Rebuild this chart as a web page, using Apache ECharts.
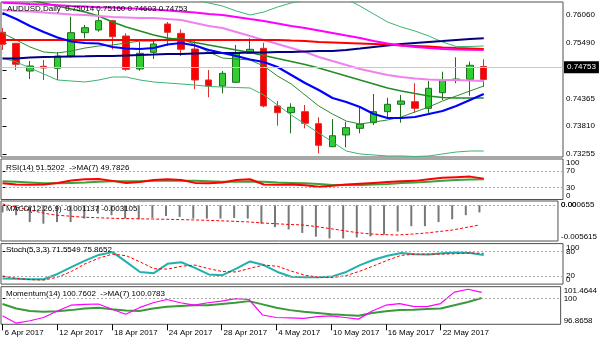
<!DOCTYPE html>
<html><head><meta charset="utf-8">
<script src="https://cdn.jsdelivr.net/npm/echarts@6/dist/echarts.min.js"></script>
<style>html,body{margin:0;padding:0;background:#fff}#c{width:600px;height:343px}</style>
</head><body><div id="c"></div>
<script>
// ---------- DATA ----------
const dates = ['6 Apr 2017','7 Apr 2017','10 Apr 2017','11 Apr 2017','12 Apr 2017','13 Apr 2017','14 Apr 2017','17 Apr 2017','18 Apr 2017','19 Apr 2017','20 Apr 2017','21 Apr 2017','24 Apr 2017','25 Apr 2017','26 Apr 2017','27 Apr 2017','28 Apr 2017','1 May 2017','2 May 2017','3 May 2017','4 May 2017','5 May 2017','8 May 2017','9 May 2017','10 May 2017','11 May 2017','12 May 2017','15 May 2017','16 May 2017','17 May 2017','18 May 2017','19 May 2017','22 May 2017','23 May 2017','24 May 2017','25 May 2017'];
const dateTickIdx = [0,4,8,12,16,20,24,28,32];
const open  = [0.75702,0.75480,0.74922,0.75017,0.74977,0.75224,0.75694,0.75748,0.75935,0.75627,0.74963,0.75299,0.75869,0.75681,0.75365,0.74741,0.74620,0.74695,0.75279,0.75379,0.74218,0.74083,0.74103,0.73861,0.73398,0.73634,0.73768,0.73881,0.74103,0.74252,0.74304,0.74171,0.74485,0.74741,0.74755,0.75014];
const close = [0.75460,0.75057,0.75023,0.74983,0.75224,0.75694,0.75794,0.75935,0.75613,0.74957,0.75279,0.75466,0.75702,0.75359,0.74741,0.74620,0.74876,0.75279,0.75359,0.74218,0.74083,0.74191,0.73869,0.73426,0.73619,0.73781,0.73855,0.74103,0.74252,0.74318,0.74171,0.74574,0.74741,0.74761,0.75037,0.74753];
const low   = [0.75345,0.74942,0.74761,0.74741,0.74741,0.75190,0.75581,0.75714,0.75359,0.74928,0.74928,0.75164,0.75426,0.75224,0.74554,0.74393,0.74473,0.74690,0.75270,0.74191,0.73821,0.73668,0.73768,0.73265,0.73390,0.73386,0.73668,0.73835,0.73956,0.73881,0.74083,0.74071,0.74338,0.74675,0.74425,0.74603];
const high  = [0.75788,0.75486,0.75124,0.75144,0.75305,0.76016,0.75849,0.76141,0.75949,0.75681,0.75512,0.75532,0.75909,0.75762,0.75561,0.74942,0.74922,0.75446,0.75581,0.75492,0.74318,0.74272,0.74238,0.73990,0.73956,0.73901,0.74203,0.74459,0.74385,0.74439,0.74675,0.74721,0.74908,0.75198,0.75110,0.75160];
const maRed     = [0.75547,0.75547,0.75547,0.75547,0.75547,0.75547,0.75547,0.75547,0.75547,0.75547,0.75547,0.75547,0.75547,0.75547,0.75547,0.75547,0.75547,0.75547,0.75547,0.75547,0.75547,0.75536,0.75526,0.75506,0.75496,0.75486,0.75476,0.75466,0.75456,0.75436,0.75426,0.75416,0.75396,0.75385,0.75375,0.75365];
const maMagenta = [0.76298,0.76286,0.76271,0.76259,0.76245,0.76231,0.76219,0.76207,0.76199,0.76187,0.76175,0.76159,0.76141,0.76120,0.76100,0.76070,0.76050,0.76010,0.75969,0.75929,0.75879,0.75828,0.75788,0.75738,0.75688,0.75637,0.75587,0.75526,0.75476,0.75436,0.75406,0.75385,0.75365,0.75355,0.75349,0.75345];
const maViolet  = [0.76151,0.76131,0.76120,0.76100,0.76080,0.76060,0.76050,0.76030,0.76010,0.76000,0.75990,0.75990,0.75969,0.75949,0.75889,0.75828,0.75788,0.75708,0.75627,0.75547,0.75466,0.75385,0.75305,0.75204,0.75124,0.75043,0.74963,0.74902,0.74842,0.74801,0.74771,0.74751,0.74741,0.74741,0.74731,0.74721];
const maNavy    = [0.75174,0.75174,0.75194,0.75204,0.75208,0.75214,0.75218,0.75224,0.75224,0.75234,0.75244,0.75254,0.75265,0.75265,0.75275,0.75285,0.75285,0.75285,0.75295,0.75295,0.75305,0.75305,0.75315,0.75325,0.75325,0.75345,0.75375,0.75406,0.75436,0.75466,0.75486,0.75506,0.75526,0.75547,0.75567,0.75581];
const maBlue    = [0.76090,0.75969,0.75828,0.75708,0.75597,0.75516,0.75486,0.75476,0.75406,0.75375,0.75365,0.75385,0.75456,0.75486,0.75436,0.75345,0.75285,0.75224,0.75154,0.75104,0.75003,0.74842,0.74681,0.74540,0.74379,0.74298,0.74197,0.74056,0.73976,0.73976,0.73996,0.74056,0.74117,0.74218,0.74338,0.74459];
const bbMid     = [0.76453,0.76412,0.76352,0.76292,0.76231,0.76171,0.76110,0.76030,0.75909,0.75808,0.75728,0.75647,0.75587,0.75547,0.75496,0.75446,0.75396,0.75345,0.75295,0.75234,0.75174,0.75114,0.75053,0.74983,0.74902,0.74822,0.74741,0.74661,0.74580,0.74520,0.74469,0.74419,0.74389,0.74379,0.74379,0.74379];
const bbUp      = [0.77560,0.77601,0.77661,0.77721,0.77721,0.77621,0.77520,0.77319,0.77017,0.76815,0.76715,0.76594,0.76493,0.76412,0.76352,0.76292,0.76231,0.76131,0.76050,0.76110,0.76211,0.76292,0.76352,0.76412,0.76412,0.76372,0.76231,0.76070,0.75909,0.75808,0.75728,0.75627,0.75506,0.75416,0.75416,0.75426];
const bbLow     = [0.75184,0.75104,0.74983,0.74862,0.74741,0.74721,0.74701,0.74741,0.74801,0.74801,0.74741,0.74701,0.74681,0.74661,0.74640,0.74610,0.74600,0.74590,0.74580,0.74439,0.74238,0.74036,0.73855,0.73674,0.73493,0.73311,0.73251,0.73231,0.73211,0.73211,0.73201,0.73211,0.73251,0.73291,0.73311,0.73311];
const maThin    = [0.75688,0.75547,0.75406,0.75305,0.75285,0.75325,0.75385,0.75426,0.75446,0.75486,0.75526,0.75526,0.75567,0.75587,0.75446,0.75305,0.75184,0.75164,0.75144,0.75023,0.74822,0.74661,0.74439,0.74218,0.74056,0.73915,0.73855,0.73895,0.73936,0.73996,0.74097,0.74197,0.74318,0.74419,0.74520,0.74620];
const rsi    = [40,37,36.5,37,41,47,50,50.5,46,41,43,48,50,48,41,40,42,48,50,37,36.5,37,35,31.5,34,37,39,41,43,45,46,50,53.5,55,56.5,51.5202];
const rsiMa  = [45,44,42,40,40,41,42,44,45,45,45,46,46,46,46,45,44,44,44.5,44,42,41,40,38,36,35.5,36,37,38.5,40.5,42,44,46,48,49.5,49.7826];
const macd   = [-0.00114,-0.00157,-0.00265,-0.0029,-0.00265,-0.00265,-0.0021,-0.0013,-0.00157,-0.0021,-0.0022,-0.002,-0.0017,-0.00184,-0.0021,-0.0021,-0.0021,-0.002,-0.0021,-0.0029,-0.00345,-0.0038,-0.00435,-0.00494,-0.00521,-0.00521,-0.00505,-0.00489,-0.00462,-0.00414,-0.00329,-0.00329,-0.00265,-0.00221,-0.00157,-0.001137];
const macdSig= [0.00019,-0.00029,-0.00077,-0.00125,-0.00157,-0.00173,-0.00189,-0.00197,-0.00205,-0.0021,-0.00213,-0.00217,-0.00221,-0.00226,-0.00231,-0.00237,-0.00245,-0.00253,-0.00262,-0.00278,-0.0029,-0.00302,-0.0031,-0.00334,-0.00366,-0.00398,-0.0043,-0.00451,-0.00462,-0.00467,-0.00454,-0.00438,-0.00414,-0.0039,-0.0035,-0.003105];
const stochK = [14,13,12,12,25,42,58,72,79,55,30,27,50,54,40,24,22,38,56,47,30,18,17,17,19,30,47,60,70,77,74,73,76,78,77,71.5549];
const stochD = [20,14,11,10,17,31,50,64,74,70,55,38,37,44,47,38,31,30,39,47,44,32,22,17,16,21,32,45,59,71,74,74,74,75,77,75.8652];
const mom    = [97.9,97.0,97.3,97.7,98.5,99.2,99.3,99.35,98.7,98.1,98.9,99.5,99.9,99.5,99.2,99.5,99.7,100.0,99.9,98.0,97.7,97.65,97.6,97.8,97.9,97.7,97.5,98.5,99.2,99.4,99.05,99.02,99.4,100.8,101.15,100.7602];
const momMa  = [99.35,98.8,98.5,98.4,98.45,98.6,98.8,98.9,98.7,98.55,98.5,98.8,99.0,99.1,99.2,99.2,99.35,99.5,99.7,99.3,98.9,98.6,98.4,98.25,98.1,98.0,97.92,98.25,98.45,98.6,98.65,98.75,98.8,99.2,99.6,100.0783];
// tick labels: inner levels and pane extremes
const priceTicks = [0.76060,0.75490,0.74935,0.74365,0.73810,0.73255];
const rsiLevels = [30,70],  rsiExt = [0,100];
const macdLevels = [0],     macdExt = [-0.005615,0.000655];
const stochLevels = [20,80], stochExt = [0,100];
const momLevels = [100],    momExt = [96.8658,101.4644];
const lastPrice = 0.74753;
const titles = ['AUDUSD,Daily  0.75014 0.75160 0.74603 0.74753','RSI(14) 51.5202  ->MA(7) 49.7826','MACD(12,26,9) -0.001137 -0.003105','Stoch(5,3,3) 71.5549 75.8652','Momentum(14) 100.7602  ->MA(7) 100.0783'];

// ---------- LAYOUT ----------
const FONT = "'Liberation Sans',Arial,sans-serif";
const FS = 8;
const X_MIN = -0.109, X_MAX = 40.764;
const panes = [
  {top:2, height:155, min:0.731905, max:0.763117},
  {top:159, height:40.5, min:0, max:100},
  {top:201, height:40, min:-0.005615, max:0.000655},
  {top:243.6, height:40.5, min:0, max:100},
  {top:286.7, height:37.6, min:96.8658, max:101.4644}
];
const innerTicks = [priceTicks, rsiLevels, macdLevels, stochLevels, momLevels];
const extTicks = [null, rsiExt, macdExt, stochExt, momExt];
const fmts = [v=>v.toFixed(5), v=>String(v), v=>(v===0?'0.00':v.toFixed(6)), v=>String(v), v=>String(v)];
const titleY = [8.3, 167.3, 208.3, 250, 293.5];

const grid = panes.map(p=>({left:1, width:562, top:p.top, height:p.height, show:true, borderColor:'#505050', borderWidth:1, backgroundColor:'transparent'}));
const xAxis = panes.map((p,i)=>({
  type:'value', gridIndex:i, min:X_MIN, max:X_MAX, show:i===4,
  axisLine:{show:false}, splitLine:{show:false},
  axisTick:{show:true, customValues:dateTickIdx, length:6, lineStyle:{color:'#000'}},
  axisLabel:{customValues:dateTickIdx, formatter:v=>dates[Math.round(v)], align:'left', margin:4, color:'#000', fontSize:FS, fontFamily:FONT, padding:[0,0,0,2], hideOverlap:false, showMinLabel:true, showMaxLabel:true}
}));
function yax(i, ticks, isExt) {
  const p = panes[i];
  return {type:'value', gridIndex:i, position:'right', min:p.min, max:p.max,
    axisLine:{show:false}, splitLine:{show:false},
    axisTick:{show:!isExt, customValues:ticks, length:4, lineStyle:{color:'#000'}},
    axisLabel:{customValues:ticks, formatter:fmts[i], margin:3, color:'#000', fontSize:FS, fontFamily:FONT,
      hideOverlap:false, showMinLabel:true, showMaxLabel:true,
      verticalAlignMaxLabel: isExt?'top':null, verticalAlignMinLabel: isExt?'bottom':null}};
}
const yAxis = panes.map((p,i)=>yax(i, innerTicks[i], false));
panes.forEach((p,i)=>{ if (extTicks[i]) yAxis.push(yax(i, extTicks[i], true)); });

const idx = a => a.map((v,i)=>[i,v]);
function line(arr, gi, color, width, extra) {
  return Object.assign({type:'line', xAxisIndex:gi, yAxisIndex:gi, data:idx(arr), showSymbol:false, symbol:'none', silent:true,
    lineStyle:{color:color, width:width}, clip:true}, extra||{});
}
function levels(vals) {
  return {silent:true, symbol:'none', label:{show:false}, lineStyle:{color:'#A8A8A8', type:[2,2], width:1},
    data: vals.map(v=>({yAxis:v}))};
}

const series = [
  {type:'candlestick', xAxisIndex:0, yAxisIndex:0, barWidth:7,
   data: dates.map((d,i)=>[i, open[i], close[i], low[i], high[i]]),
   encode:{x:0, y:[1,2,3,4]},
   itemStyle:{color:'#32CD32', color0:'#FF0000', borderColor:'#1E6E1E', borderColor0:'#D83030', borderWidth:1},
   markLine:{silent:true, symbol:'none', lineStyle:{color:'#C8C8C8', type:'solid', width:1},
     label:{show:true, position:'end', formatter:lastPrice.toFixed(5), color:'#fff', backgroundColor:'#000', padding:[2,3,2,3], distance:1, fontSize:FS, fontFamily:FONT},
     data:[{yAxis:lastPrice}]}, z:2},
  line(bbUp, 0, '#3CB371', 1),
  line(bbLow, 0, '#3CB371', 1),
  line(maThin, 0, '#2E8B2E', 1),
  line(bbMid, 0, '#228B22', 1.6),
  line(maViolet, 0, '#EE82EE', 2),
  line(maNavy, 0, '#000080', 2),
  line(maRed, 0, '#FF0000', 2),
  line(maMagenta, 0, '#FF00FF', 2),
  line(maBlue, 0, '#0000FF', 2.2),
  line(rsiMa, 1, '#3FA03F', 2, {markLine: levels(rsiLevels)}),
  line(rsi, 1, '#FF0000', 2),
  {type:'bar', xAxisIndex:2, yAxisIndex:2, data:idx(macd), barWidth:2, silent:true, itemStyle:{color:'#787878'},
   markLine: levels(macdLevels)},
  line(macdSig, 2, '#FF0000', 1, {lineStyle:{color:'#FF0000', width:1, type:[3,2]}}),
  line(stochK, 3, '#20B2AA', 2, {markLine: levels(stochLevels)}),
  line(stochD, 3, '#FF0000', 1, {lineStyle:{color:'#FF0000', width:1, type:[3,2]}}),
  line(momMa, 4, '#3A9A3A', 2, {markLine: levels(momLevels)}),
  line(mom, 4, '#FF00FF', 1.2)
];

const graphic = titles.map((t,i)=>({type:'text', x: i===0?7:6, y:titleY[i], z:100,
  style:{text:t, fill:'#000', fontSize:FS, fontFamily:FONT, verticalAlign:'middle', align:'left'}}));

const chart = echarts.init(document.getElementById('c'), null, {renderer:'canvas'});
chart.setOption({animation:false, backgroundColor:'#fff', grid, xAxis, yAxis, series, graphic});
</script>
</body></html>
